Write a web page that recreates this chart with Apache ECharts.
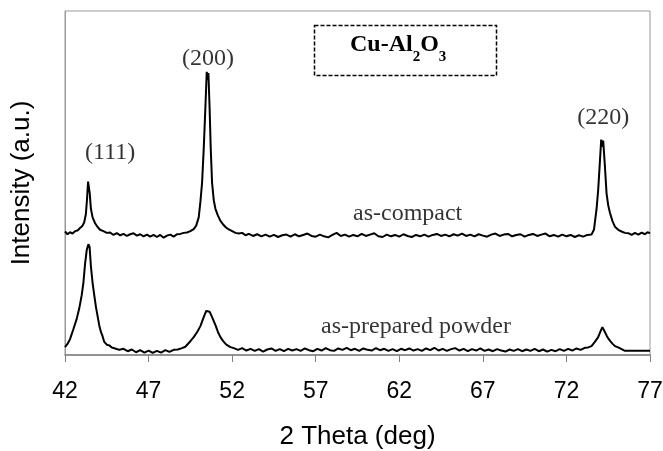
<!DOCTYPE html>
<html>
<head>
<meta charset="utf-8">
<script src="https://cdn.jsdelivr.net/npm/echarts@6/dist/echarts.min.js"></script>
<style>
  html, body { margin: 0; padding: 0; background: #fff; }
  #chart { width: 663px; height: 451px; }
</style>
</head>
<body>
<div id="chart"></div>
<script>
// x tick range (2 theta, deg)
const xMin = 42
const xMax = 77
const xStep = 5

// as-compact pattern, [2theta, intensity a.u.]
const asCompact = [
  [42.0, 35.9], [42.15, 35.1], [42.3, 35.7], [42.45, 35.3], [42.6, 36.0], [42.75, 36.2],
  [42.9, 36.9], [43.05, 37.6], [43.15, 38.6], [43.25, 41.0], [43.32, 45.5], [43.38, 50.4],
  [43.43, 50.0], [43.48, 47.0], [43.55, 42.5], [43.65, 40.0], [43.8, 38.3], [43.95, 37.2],
  [44.1, 36.4], [44.3, 36.0], [44.5, 35.5], [44.7, 35.6], [44.9, 34.9], [45.1, 35.4],
  [45.3, 34.8], [45.5, 35.2], [45.7, 34.6], [45.9, 35.1], [46.1, 35.4], [46.3, 34.7],
  [46.5, 35.1], [46.7, 34.5], [46.9, 35.0], [47.1, 34.4], [47.3, 34.9], [47.5, 34.3],
  [47.7, 34.9], [47.9, 34.1], [48.1, 34.7], [48.3, 35.0], [48.5, 34.4], [48.7, 35.1],
  [48.9, 35.2], [49.1, 35.5], [49.3, 35.6], [49.5, 36.0], [49.7, 36.6], [49.85, 37.6],
  [50.0, 40.0], [50.1, 44.5], [50.2, 50.0], [50.3, 60.0], [50.4, 72.0], [50.48, 82.3],
  [50.53, 80.0], [50.58, 82.0], [50.65, 72.0], [50.72, 60.0], [50.8, 50.0], [50.9, 45.0],
  [51.0, 42.5], [51.15, 40.5], [51.3, 39.0], [51.45, 38.0], [51.6, 37.2], [51.8, 36.5],
  [52.0, 36.0], [52.2, 35.5], [52.4, 35.3], [52.6, 35.5], [52.8, 34.8], [53.0, 35.2],
  [53.25, 34.6], [53.5, 35.1], [53.75, 34.5], [54.0, 35.0], [54.25, 34.4], [54.5, 34.9],
  [54.75, 34.3], [55.0, 34.8], [55.25, 35.0], [55.5, 34.4], [55.75, 35.1], [56.0, 34.5],
  [56.25, 34.9], [56.5, 35.3], [56.75, 34.6], [57.0, 34.4], [57.25, 35.0], [57.5, 34.5],
  [57.75, 34.2], [58.0, 34.9], [58.25, 35.5], [58.5, 34.6], [58.75, 35.0], [59.0, 34.4],
  [59.25, 34.9], [59.5, 34.5], [59.75, 35.2], [60.0, 34.6], [60.25, 35.0], [60.5, 35.4],
  [60.75, 34.5], [61.0, 34.3], [61.25, 35.0], [61.5, 34.5], [61.75, 34.9], [62.0, 34.4],
  [62.25, 35.1], [62.5, 34.6], [62.75, 34.3], [63.0, 34.9], [63.25, 34.5], [63.5, 35.0],
  [63.75, 34.4], [64.0, 34.9], [64.25, 35.2], [64.5, 34.6], [64.75, 35.0], [65.0, 34.5],
  [65.25, 35.1], [65.5, 34.7], [65.75, 35.3], [66.0, 34.6], [66.25, 35.0], [66.5, 34.5],
  [66.75, 35.1], [67.0, 34.7], [67.25, 34.4], [67.5, 35.0], [67.75, 35.3], [68.0, 34.6],
  [68.25, 35.0], [68.5, 35.2], [68.75, 34.5], [69.0, 34.9], [69.25, 35.1], [69.5, 34.4],
  [69.75, 34.9], [70.0, 35.2], [70.25, 34.6], [70.5, 35.0], [70.75, 35.3], [71.0, 34.5],
  [71.25, 34.9], [71.5, 34.4], [71.75, 35.0], [72.0, 34.5], [72.25, 34.9], [72.5, 34.3],
  [72.75, 34.8], [73.0, 34.4], [73.25, 34.9], [73.5, 35.0], [73.65, 36.5], [73.8, 42.3],
  [73.9, 48.0], [74.0, 56.0], [74.08, 62.6], [74.14, 60.5], [74.2, 62.3], [74.3, 55.0],
  [74.4, 47.0], [74.5, 43.5], [74.6, 41.4], [74.75, 39.0], [74.9, 37.3], [75.1, 36.4],
  [75.3, 35.9], [75.5, 35.5], [75.7, 35.4], [75.9, 34.9], [76.1, 35.5], [76.3, 35.0],
  [76.5, 35.6], [76.7, 35.1], [76.85, 35.7], [77.0, 35.4]
]

// as-prepared powder pattern
const asPrepared = [
  [42.0, 2.3], [42.15, 3.2], [42.3, 4.6], [42.5, 7.5], [42.7, 10.5], [42.85, 13.5],
  [43.0, 17.4], [43.1, 21.0], [43.2, 26.5], [43.3, 30.5], [43.4, 32.2],
  [43.47, 31.5], [43.55, 25.8], [43.65, 21.0], [43.75, 17.4], [43.85, 14.0], [43.95, 11.3],
  [44.05, 8.6], [44.15, 6.7], [44.25, 5.4], [44.35, 3.8], [44.5, 3.0], [44.65, 2.8],
  [44.8, 2.2], [45.0, 1.9], [45.25, 1.5], [45.5, 1.8], [45.75, 1.1], [46.0, 1.6],
  [46.25, 0.8], [46.5, 1.4], [46.75, 0.7], [47.0, 1.3], [47.25, 0.6], [47.5, 1.2],
  [47.75, 0.7], [48.0, 1.4], [48.25, 0.9], [48.5, 1.5], [48.75, 1.6], [49.0, 2.0],
  [49.2, 2.4], [49.35, 3.2], [49.5, 4.0], [49.7, 5.2], [49.9, 6.6], [50.1, 8.4],
  [50.3, 11.0], [50.45, 12.8], [50.55, 13.3], [50.65, 12.6], [50.8, 11.0], [51.0, 8.7],
  [51.15, 6.7], [51.3, 5.2], [51.45, 4.1], [51.65, 3.0], [51.9, 2.3], [52.1, 2.0],
  [52.35, 1.5], [52.6, 2.0], [52.85, 1.3], [53.1, 1.8], [53.35, 1.2], [53.6, 1.7],
  [53.85, 1.0], [54.1, 1.6], [54.35, 1.9], [54.6, 1.2], [54.85, 1.7], [55.1, 1.1],
  [55.35, 1.8], [55.6, 1.3], [55.85, 1.7], [56.1, 1.2], [56.35, 1.9], [56.6, 1.4],
  [56.85, 1.1], [57.1, 1.8], [57.35, 1.3], [57.6, 2.0], [57.85, 1.4], [58.1, 1.2],
  [58.35, 1.9], [58.6, 1.5], [58.85, 2.1], [59.1, 1.4], [59.35, 1.8], [59.6, 1.2],
  [59.85, 1.9], [60.1, 1.5], [60.35, 1.3], [60.6, 2.0], [60.85, 1.4], [61.1, 1.8],
  [61.35, 1.2], [61.6, 1.7], [61.85, 1.1], [62.1, 1.8], [62.35, 1.4], [62.6, 1.9],
  [62.85, 1.3], [63.1, 1.7], [63.35, 1.2], [63.6, 1.9], [63.85, 1.4], [64.1, 2.1],
  [64.35, 1.3], [64.6, 1.8], [64.85, 1.2], [65.1, 1.7], [65.35, 2.0], [65.6, 1.3],
  [65.85, 1.8], [66.1, 1.1], [66.35, 1.7], [66.6, 1.3], [66.85, 1.9], [67.1, 1.2],
  [67.35, 1.6], [67.6, 1.1], [67.85, 1.7], [68.1, 1.3], [68.35, 1.0], [68.6, 1.6],
  [68.85, 1.2], [69.1, 1.7], [69.35, 1.1], [69.6, 1.6], [69.85, 1.2], [70.1, 1.8],
  [70.35, 1.1], [70.6, 1.6], [70.85, 1.0], [71.1, 1.5], [71.35, 1.1], [71.6, 1.7],
  [71.85, 1.2], [72.1, 1.8], [72.35, 1.3], [72.6, 1.9], [72.85, 1.5], [73.1, 2.1],
  [73.3, 2.2], [73.5, 2.6], [73.7, 3.8], [73.9, 5.2], [74.05, 7.0], [74.15, 8.1],
  [74.25, 7.2], [74.45, 5.2], [74.6, 4.2], [74.75, 3.3], [74.9, 2.6], [75.1, 2.2],
  [75.3, 1.7], [75.5, 1.2], [77.0, 1.2]
]

// peak / curve labels: [2theta, intensity, text]
const peakLabels = [
  [44.7, 58.8, '(111)'],
  [50.56, 86.1, '(200)'],
  [74.2, 69.0, '(220)']
]
const curveLabels = [
  [62.5, 41.2, 'as-compact'],
  [63.0, 8.1, 'as-prepared powder']
]

const serif = '"Liberation Serif", "Times New Roman", serif'
const sans = '"Liberation Sans", Arial, sans-serif'

const chart = echarts.init(document.getElementById('chart'))

const lineStyle = { color: '#000', width: 2 }

chart.setOption({
  animation: false,
  grid: {
    left: 65,
    right: 13,
    top: 11,
    bottom: 96,
    outerBoundsMode: 'none',
    containLabel: false,
    show: true,
    borderColor: '#999',
    borderWidth: 1
  },
  xAxis: {
    type: 'value',
    min: xMin,
    max: xMax,
    interval: xStep,
    name: '2 Theta (deg)',
    nameLocation: 'middle',
    nameGap: 69,
    nameTextStyle: { fontFamily: sans, fontSize: 26, color: '#000' },
    axisLine: { lineStyle: { color: '#808080', width: 1.5 } },
    axisTick: { show: true, inside: false, length: 7, lineStyle: { color: '#808080' } },
    axisLabel: { fontFamily: sans, fontSize: 23, color: '#000', margin: 25 },
    splitLine: { show: false }
  },
  yAxis: {
    type: 'value',
    min: 0,
    max: 100,
    name: 'Intensity (a.u.)',
    nameLocation: 'middle',
    nameRotate: 90,
    nameGap: 30,
    nameTextStyle: { fontFamily: sans, fontSize: 26, color: '#000' },
    axisLine: { show: true, lineStyle: { color: '#999' } },
    axisTick: { show: false },
    axisLabel: { show: false },
    splitLine: { show: false }
  },
  series: [
    {
      name: 'as-compact',
      type: 'line',
      data: asCompact,
      showSymbol: false,
      lineStyle
    },
    {
      name: 'as-prepared powder',
      type: 'line',
      data: asPrepared,
      showSymbol: false,
      lineStyle
    },
    {
      type: 'scatter',
      data: peakLabels.concat(curveLabels),
      symbolSize: 0,
      silent: true,
      label: {
        show: true,
        position: 'inside',
        formatter: p => p.data[2],
        fontFamily: serif,
        fontSize: 24,
        color: '#000'
      }
    }
  ],
  graphic: [
    {
      type: 'rect',
      left: 312,
      top: 23,
      shape: { width: 182, height: 50 },
      style: { fill: 'none', stroke: '#000', lineWidth: 1.5, lineDash: [4, 2] }
    },
    {
      type: 'text',
      left: 350,
      top: 33,
      style: {
        text: '{m|Cu-Al}{s|2}{m|O}{s|3}',
        rich: {
          m: { fontFamily: serif, fontWeight: 'bold', fontSize: 24, lineHeight: 28, verticalAlign: 'middle', fill: '#000' },
          s: { fontFamily: serif, fontWeight: 'bold', fontSize: 15, lineHeight: 40, verticalAlign: 'bottom', fill: '#000' }
        }
      }
    }
  ]
})
</script>
</body>
</html>
